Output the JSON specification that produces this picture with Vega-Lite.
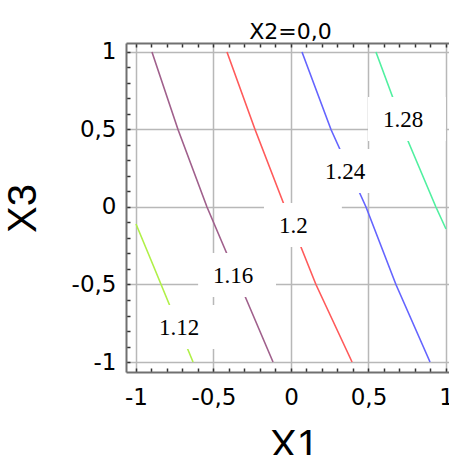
{
  "$schema": "https://vega.github.io/schema/vega-lite/v6.json",
  "autosize": {"type": "none"},
  "padding": {"left": 126, "top": 43, "right": 0, "bottom": 83},
  "width": 323,
  "height": 329,
  "background": "white",
  "config": {"view": {"stroke": null}},
  "title": {"text": "X2=0,0", "font": "DejaVu Sans", "fontSize": 22, "fontWeight": "normal", "color": "black", "anchor": "middle", "baseline": "alphabetic", "offset": -20, "dx": 3},
  "datasets": {
    "contours": [
      {"level": "1.12", "X1": -1.0, "X3": -0.110},
      {"level": "1.12", "X1": -0.890, "X3": -0.374},
      {"level": "1.12", "X1": -0.781, "X3": -0.639},
      {"level": "1.12", "X1": -0.632, "X3": -1.0},
      {"level": "1.16", "X1": -0.897, "X3": 1.0},
      {"level": "1.16", "X1": -0.729, "X3": 0.5},
      {"level": "1.16", "X1": -0.542, "X3": 0.0},
      {"level": "1.16", "X1": -0.329, "X3": -0.5},
      {"level": "1.16", "X1": -0.116, "X3": -1.0},
      {"level": "1.2", "X1": -0.413, "X3": 1.0},
      {"level": "1.2", "X1": -0.232, "X3": 0.5},
      {"level": "1.2", "X1": -0.039, "X3": 0.0},
      {"level": "1.2", "X1": 0.161, "X3": -0.5},
      {"level": "1.2", "X1": 0.394, "X3": -1.0},
      {"level": "1.24", "X1": 0.071, "X3": 1.0},
      {"level": "1.24", "X1": 0.258, "X3": 0.5},
      {"level": "1.24", "X1": 0.484, "X3": 0.0},
      {"level": "1.24", "X1": 0.677, "X3": -0.5},
      {"level": "1.24", "X1": 0.897, "X3": -1.0},
      {"level": "1.28", "X1": 0.548, "X3": 1.0},
      {"level": "1.28", "X1": 0.658, "X3": 0.703},
      {"level": "1.28", "X1": 0.755, "X3": 0.426},
      {"level": "1.28", "X1": 0.935, "X3": 0.0},
      {"level": "1.28", "X1": 1.0, "X3": -0.142}
    ],
    "labels": [
      {"label": "1.12", "X1": -0.697, "X3": -0.774},
      {"label": "1.16", "X1": -0.348, "X3": -0.439},
      {"label": "1.2", "X1": 0.077, "X3": -0.116},
      {"label": "1.24", "X1": 0.374, "X3": 0.232},
      {"label": "1.28", "X1": 0.748, "X3": 0.568}
    ]
  },
  "resolve": {"axis": {"x": "independent", "y": "independent"}},
  "layer": [
    {
      "data": {"name": "contours"},
      "mark": {"type": "line", "strokeWidth": 1.6},
      "encoding": {
        "x": {
          "field": "X1", "type": "quantitative",
          "scale": {"domain": [-1.0645, 1.0194], "nice": false, "zero": false},
          "axis": {
            "orient": "bottom",
            "title": "X1",
            "titleFont": "Liberation Sans", "titleFontSize": 40, "titleFontWeight": "normal", "titleColor": "black",
            "titleX": 168, "titleY": 85, "titleAlign": "center", "titleBaseline": "alphabetic", "titleAngle": 0,
            "values": [-1, -0.9, -0.8, -0.7, -0.6, -0.5, -0.4, -0.3, -0.2, -0.1, 0, 0.1, 0.2, 0.3, 0.4, 0.5, 0.6, 0.7, 0.8, 0.9, 1],
            "labelExpr": "abs(datum.value*2 - round(datum.value*2)) < 0.001 ? (datum.value < 0 ? '-' : '') + replace(format(abs(datum.value), '~g'), '.', ',') : ''",
            "labelFont": "DejaVu Sans", "labelFontSize": 23, "labelColor": "black",
            "labelFlush": false, "labelOverlap": false, "labelBound": false,
            "labelPadding": 18,
            "grid": true, "gridColor": "#b8b8b8", "gridWidth": 1.5,
            "gridOpacity": {"condition": {"test": "abs(datum.value*2 - round(datum.value*2)) < 0.001", "value": 1}, "value": 0},
            "ticks": true, "tickSize": -4, "tickColor": "#333333", "tickWidth": 1.5,
            "domain": true, "domainColor": "#707070", "domainWidth": 2
          }
        },
        "y": {
          "field": "X3", "type": "quantitative",
          "scale": {"domain": [-1.0645, 1.058], "nice": false, "zero": false},
          "axis": {
            "orient": "left",
            "title": "X3",
            "titleFont": "Liberation Sans", "titleFontSize": 40, "titleFontWeight": "normal", "titleColor": "black",
            "titleX": -91, "titleY": 165, "titleAlign": "center", "titleBaseline": "alphabetic", "titleAngle": -90,
            "values": [-1, -0.9, -0.8, -0.7, -0.6, -0.5, -0.4, -0.3, -0.2, -0.1, 0, 0.1, 0.2, 0.3, 0.4, 0.5, 0.6, 0.7, 0.8, 0.9, 1],
            "labelExpr": "abs(datum.value*2 - round(datum.value*2)) < 0.001 ? (datum.value < 0 ? '-' : '') + replace(format(abs(datum.value), '~g'), '.', ',') : ''",
            "labelFont": "DejaVu Sans", "labelFontSize": 23, "labelColor": "black",
            "labelFlush": false, "labelOverlap": false, "labelBound": false,
            "labelPadding": 14,
            "grid": true, "gridColor": "#b8b8b8", "gridWidth": 1.5,
            "gridOpacity": {"condition": {"test": "abs(datum.value*2 - round(datum.value*2)) < 0.001", "value": 1}, "value": 0},
            "ticks": true, "tickSize": -4, "tickColor": "#333333", "tickWidth": 1.5,
            "domain": true, "domainColor": "#707070", "domainWidth": 2
          }
        },
        "color": {
          "field": "level", "type": "nominal",
          "scale": {"domain": ["1.12", "1.16", "1.2", "1.24", "1.28"], "range": ["#b0f048", "#a0608c", "#ff5a5a", "#6464ff", "#50f0a0"]},
          "legend": null
        }
      }
    },
    {
      "data": {"name": "labels"},
      "mark": {"type": "point", "shape": "M-1.77,-1H1.77V1H-1.77Z", "filled": true, "color": "white", "opacity": 1, "size": 1936, "strokeWidth": 0},
      "encoding": {
        "x": {
          "field": "X1", "type": "quantitative",
          "axis": {
            "orient": "top", "title": null, "labels": false, "grid": false,
            "values": [-1, -0.9, -0.8, -0.7, -0.6, -0.5, -0.4, -0.3, -0.2, -0.1, 0, 0.1, 0.2, 0.3, 0.4, 0.5, 0.6, 0.7, 0.8, 0.9, 1],
            "ticks": true, "tickSize": -4, "tickColor": "#333333", "tickWidth": 1.5,
            "domain": true, "domainColor": "#707070", "domainWidth": 2
          }
        },
        "y": {"field": "X3", "type": "quantitative", "axis": null}
      }
    },
    {
      "data": {"name": "labels"},
      "mark": {"type": "text", "font": "Liberation Serif", "fontSize": 23, "color": "black", "align": "left", "baseline": "alphabetic", "dx": -24, "dy": 8},
      "encoding": {
        "x": {"field": "X1", "type": "quantitative", "axis": null},
        "y": {"field": "X3", "type": "quantitative", "axis": null},
        "text": {"field": "label", "type": "nominal"}
      }
    }
  ]
}
